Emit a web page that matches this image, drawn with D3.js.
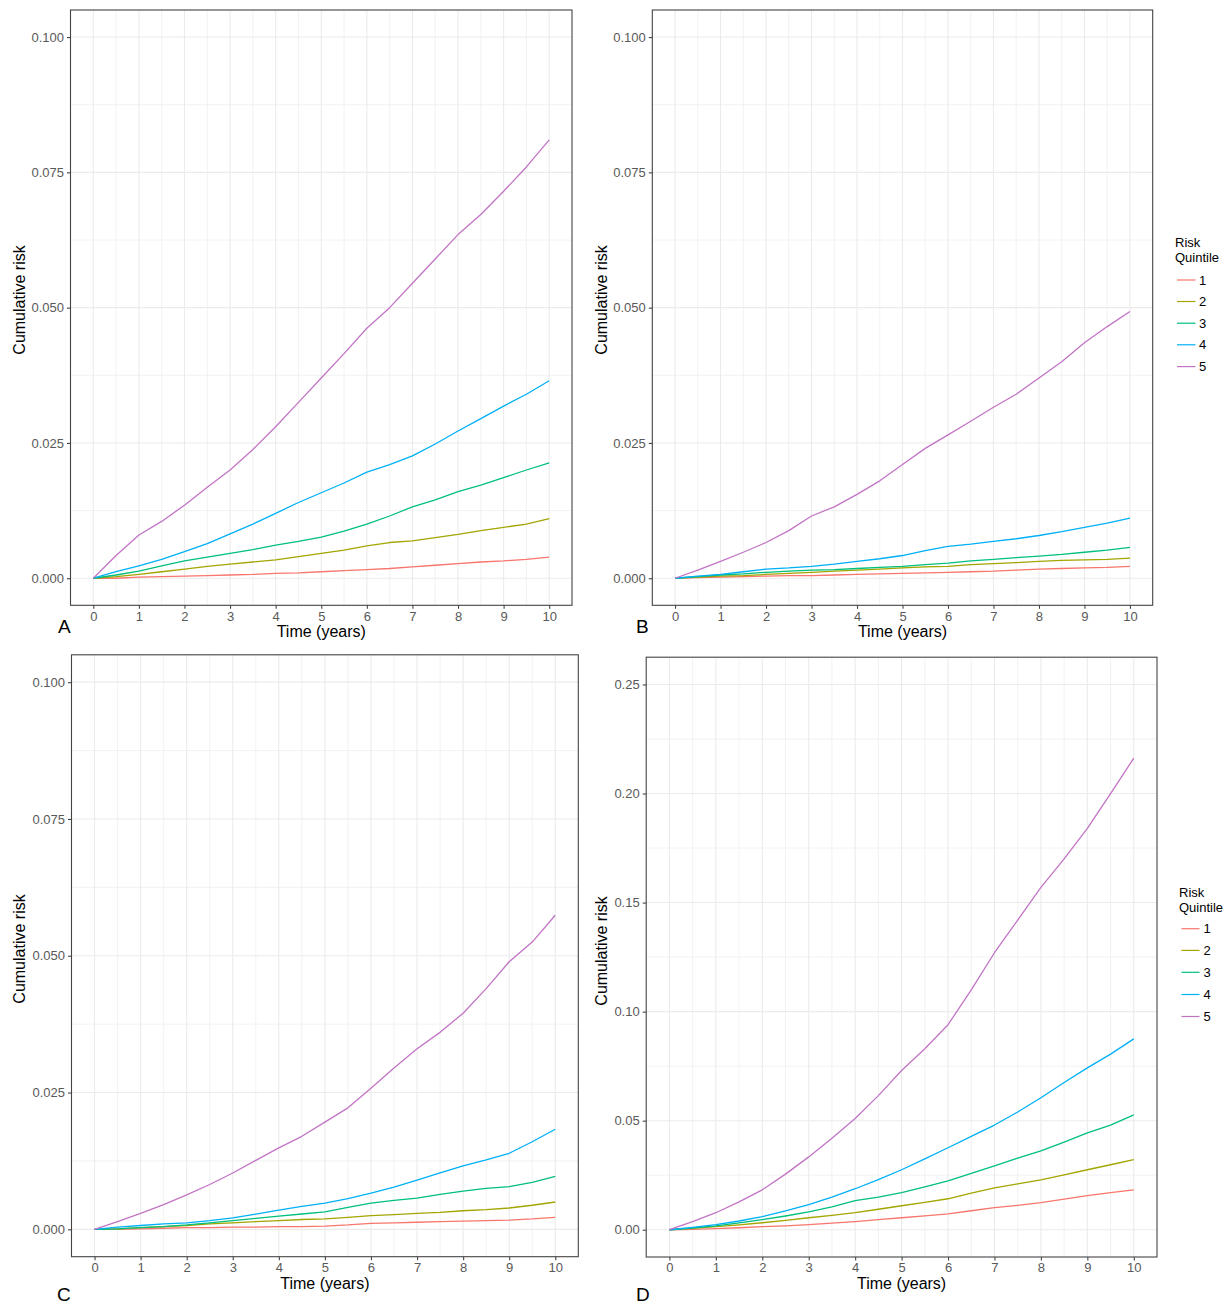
<!DOCTYPE html>
<html>
<head>
<meta charset="utf-8">
<script src="https://cdn.jsdelivr.net/npm/d3@7"></script>
<style>
  body { margin: 0; background: #fff; }
  svg { display: block; font-family: "Liberation Sans", Arial, Helvetica, sans-serif; }
</style>
</head>
<body>
<svg id="chart" width="1224" height="1304"></svg>
<script>
// ---------- data ----------
const times = [0,0.5,1,1.5,2,2.5,3,3.5,4,4.5,5,5.5,6,6.5,7,7.5,8,8.5,9,9.5,10];
const quintiles = ["1","2","3","4","5"];
const colors = ["#F8766D","#A3A500","#00BF7D","#00B0F6","#C274C4"];
const xTicks = [0,1,2,3,4,5,6,7,8,9,10];
const yTicksABC = [0,0.025,0.05,0.075,0.1];
const yTicksD = [0,0.05,0.10,0.15,0.20,0.25];

const A1 = [0,.0000,.0002,.0003,.0004,.0005,.0006,.0007,.0009,.0010,.0012,.0014,.0016,.0018,.0021,.0024,.0027,.0030,.0032,.0035,.0039];
const A2 = [0,.0003,.0007,.0012,.0017,.0022,.0026,.0030,.0034,.0040,.0046,.0052,.0060,.0066,.0069,.0075,.0081,.0088,.0094,.0100,.0110];
const A3 = [0,.0006,.0013,.0023,.0032,.0039,.0046,.0053,.0061,.0068,.0076,.0087,.0100,.0115,.0132,.0145,.0160,.0172,.0186,.0200,.0213];
const A4 = [0,.0012,.0023,.0035,.0049,.0064,.0082,.0100,.0120,.0140,.0158,.0176,.0196,.0210,.0226,.0248,.0272,.0295,.0318,.0340,.0365];
const A5 = [0,.0042,.0080,.0105,.0135,.0168,.0200,.0238,.0280,.0325,.0370,.0415,.0462,.0500,.0545,.0590,.0635,.0672,.0715,.0760,.0810];

const B1 = [0,.0001,.0002,.0003,.0004,.0005,.0005,.0006,.0007,.0008,.0009,.0010,.0011,.0012,.0013,.0015,.0017,.0018,.0019,.0020,.0022];
const B2 = [0,.0002,.0004,.0005,.0007,.0009,.0011,.0013,.0015,.0017,.0019,.0021,.0022,.0025,.0027,.0029,.0031,.0033,.0034,.0035,.0037];
const B3 = [0,.0003,.0006,.0008,.0011,.0013,.0015,.0016,.0018,.0020,.0022,.0025,.0028,.0032,.0035,.0038,.0041,.0044,.0048,.0052,.0057];
const B4 = [0,.0004,.0007,.0012,.0017,.0019,.0022,.0026,.0031,.0036,.0042,.0051,.0059,.0063,.0068,.0073,.0079,.0086,.0094,.0102,.0111];
const B5 = [0,.0015,.0031,.0048,.0066,.0088,.0115,.0132,.0155,.0180,.0210,.0240,.0265,.0290,.0316,.0340,.0370,.0400,.0435,.0465,.0493];

const C1 = [0,.0000,.0001,.0002,.0003,.0003,.0004,.0004,.0005,.0005,.0006,.0008,.0011,.0012,.0013,.0014,.0015,.0016,.0017,.0019,.0022];
const C2 = [0,.0001,.0003,.0005,.0007,.0010,.0012,.0014,.0016,.0018,.0019,.0022,.0025,.0027,.0029,.0031,.0034,.0036,.0039,.0044,.0050];
const C3 = [0,.0001,.0003,.0005,.0008,.0012,.0016,.0020,.0024,.0028,.0032,.0040,.0048,.0053,.0057,.0064,.0070,.0075,.0078,.0086,.0097];
const C4 = [0,.0004,.0007,.0010,.0012,.0016,.0021,.0028,.0035,.0042,.0048,.0056,.0066,.0077,.0090,.0103,.0116,.0127,.0139,.0160,.0183];
const C5 = [0,.0014,.0029,.0045,.0063,.0082,.0103,.0126,.0149,.0170,.0196,.0222,.0258,.0295,.0330,.0360,.0395,.0440,.0489,.0525,.0574];

const D1 = [0,.0002,.0005,.0009,.0014,.0018,.0023,.0030,.0037,.0046,.0055,.0064,.0073,.0087,.0101,.0112,.0124,.0140,.0156,.0170,.0183];
const D2 = [0,.0006,.0014,.0022,.0032,.0043,.0055,.0066,.0078,.0094,.0110,.0125,.0142,.0168,.0192,.0210,.0229,.0252,.0275,.0298,.0321];
const D3 = [0,.0008,.0018,.0031,.0046,.0063,.0082,.0105,.0133,.0150,.0170,.0196,.0224,.0258,.0293,.0328,.0362,.0402,.0444,.0480,.0527];
const D4 = [0,.0011,.0023,.0040,.0060,.0086,.0115,.0150,.0188,.0230,.0275,.0325,.0376,.0428,.0480,.0540,.0605,.0675,.0742,.0805,.0875];
const D5 = [0,.0037,.0078,.0128,.0183,.0255,.0334,.0420,.0510,.0615,.0730,.0830,.0940,.1100,.1270,.1420,.1570,.1700,.1840,.2000,.2162];

// ---------- layout ----------
const panels = [
  { label:"A", series:[A1,A2,A3,A4,A5], yMax:0.1, yTicks:yTicksABC, fmt:".3f",
    x0:70.5, x1:572, y0:10, y1:605.3, lab:[58,633], ytx:19, yty:300, legend:null },
  { label:"B", series:[B1,B2,B3,B4,B5], yMax:0.1, yTicks:yTicksABC, fmt:".3f",
    x0:652.3, x1:1152.7, y0:10, y1:605.3, lab:[636,633], ytx:601, yty:300,
    legend:{ x:1175, titleY:246.5, items:[280,301.5,323.2,344.8,366.6], kx0:1177, kx1:1195.5, lx:1199 } },
  { label:"C", series:[C1,C2,C3,C4,C5], yMax:0.1, yTicks:yTicksABC, fmt:".3f",
    x0:71.5, x1:578.3, y0:654.8, y1:1256.7, lab:[57,1301], ytx:19, yty:949, legend:null },
  { label:"D", series:[D1,D2,D3,D4,D5], yMax:0.25, yTicks:yTicksD, fmt:".2f",
    x0:646.2, x1:1157, y0:657.2, y1:1257, lab:[636,1301], ytx:601, yty:951,
    legend:{ x:1179, titleY:896.5, items:[928.7,950.4,972.3,994.5,1016.5], kx0:1181.5, kx1:1199.5, lx:1203.5 } }
];

const svg = d3.select("#chart");

panels.forEach(p => {
  const x = d3.scaleLinear().domain([-0.5, 10.5]).range([p.x0, p.x1]);
  const pad = p.yMax * 0.05;
  const y = d3.scaleLinear().domain([-pad, p.yMax + pad]).range([p.y1, p.y0]);
  const g = svg.append("g");

  // minor grid
  const xMinor = d3.range(0.5, 10, 1);
  const yStep = p.yTicks[1] - p.yTicks[0];
  const yMinor = p.yTicks.slice(0, -1).map(v => v + yStep / 2);
  g.append("g").selectAll("line").data(xMinor).join("line")
    .attr("x1", d => x(d)).attr("x2", d => x(d)).attr("y1", p.y0).attr("y2", p.y1)
    .attr("stroke", "#EFEFEF").attr("stroke-width", 0.8);
  g.append("g").selectAll("line").data(yMinor).join("line")
    .attr("y1", d => y(d)).attr("y2", d => y(d)).attr("x1", p.x0).attr("x2", p.x1)
    .attr("stroke", "#EFEFEF").attr("stroke-width", 0.8);
  // major grid
  g.append("g").selectAll("line").data(xTicks).join("line")
    .attr("x1", d => x(d)).attr("x2", d => x(d)).attr("y1", p.y0).attr("y2", p.y1)
    .attr("stroke", "#EBEBEB").attr("stroke-width", 1.1);
  g.append("g").selectAll("line").data(p.yTicks).join("line")
    .attr("y1", d => y(d)).attr("y2", d => y(d)).attr("x1", p.x0).attr("x2", p.x1)
    .attr("stroke", "#EBEBEB").attr("stroke-width", 1.1);

  // lines
  const line = d3.line().x((d, i) => x(times[i])).y(d => y(d)).curve(d3.curveLinear);
  p.series.forEach((s, k) => {
    g.append("path").datum(s).attr("d", line)
      .attr("fill", "none").attr("stroke", colors[k]).attr("stroke-width", 1.3)
      .attr("stroke-linejoin", "round");
  });

  // border
  g.append("rect").attr("x", p.x0).attr("y", p.y0)
    .attr("width", p.x1 - p.x0).attr("height", p.y1 - p.y0)
    .attr("fill", "none").attr("stroke", "#444").attr("stroke-width", 1.1);

  // axes
  const xAxis = d3.axisBottom(x).tickValues(xTicks).tickSize(3.5).tickPadding(2.5).tickFormat(d3.format("d"));
  const gx = g.append("g").attr("transform", `translate(0,${p.y1})`).call(xAxis);
  gx.select(".domain").remove();
  gx.selectAll(".tick line").attr("stroke", "#444").attr("stroke-width", 1.1);
  gx.selectAll(".tick text").attr("fill", "#595959").attr("font-size", 13)
    .attr("font-family", "Liberation Sans, Arial, sans-serif");

  const yAxis = d3.axisLeft(y).tickValues(p.yTicks).tickSize(3.5).tickPadding(3).tickFormat(d3.format(p.fmt));
  const gy = g.append("g").attr("transform", `translate(${p.x0},0)`).call(yAxis);
  gy.select(".domain").remove();
  gy.selectAll(".tick line").attr("stroke", "#444").attr("stroke-width", 1.1);
  gy.selectAll(".tick text").attr("fill", "#595959").attr("font-size", 13)
    .attr("font-family", "Liberation Sans, Arial, sans-serif");

  // axis titles
  g.append("text").attr("x", (p.x0 + p.x1) / 2).attr("y", p.y1 + 32)
    .attr("text-anchor", "middle").attr("font-size", 16).attr("fill", "#000")
    .text("Time (years)");
  g.append("text")
    .attr("transform", `translate(${p.ytx},${p.yty}) rotate(-90)`)
    .attr("text-anchor", "middle").attr("dy", "0.35em").attr("font-size", 16).attr("fill", "#000")
    .text("Cumulative risk");

  // panel label
  g.append("text").attr("x", p.lab[0]).attr("y", p.lab[1])
    .attr("font-size", 19).attr("fill", "#000").text(p.label);

  // legend
  if (p.legend) {
    const L = p.legend;
    const lg = svg.append("g");
    lg.append("text").attr("x", L.x).attr("y", L.titleY).attr("font-size", 13).attr("fill", "#000").text("Risk");
    lg.append("text").attr("x", L.x).attr("y", L.titleY + 15).attr("font-size", 13).attr("fill", "#000").text("Quintile");
    quintiles.forEach((q, k) => {
      lg.append("line").attr("x1", L.kx0).attr("x2", L.kx1)
        .attr("y1", L.items[k]).attr("y2", L.items[k])
        .attr("stroke", colors[k]).attr("stroke-width", 1.2);
      lg.append("text").attr("x", L.lx).attr("y", L.items[k]).attr("dy", "0.36em")
        .attr("font-size", 13).attr("fill", "#000").text(q);
    });
  }
});
</script>
</body>
</html>
